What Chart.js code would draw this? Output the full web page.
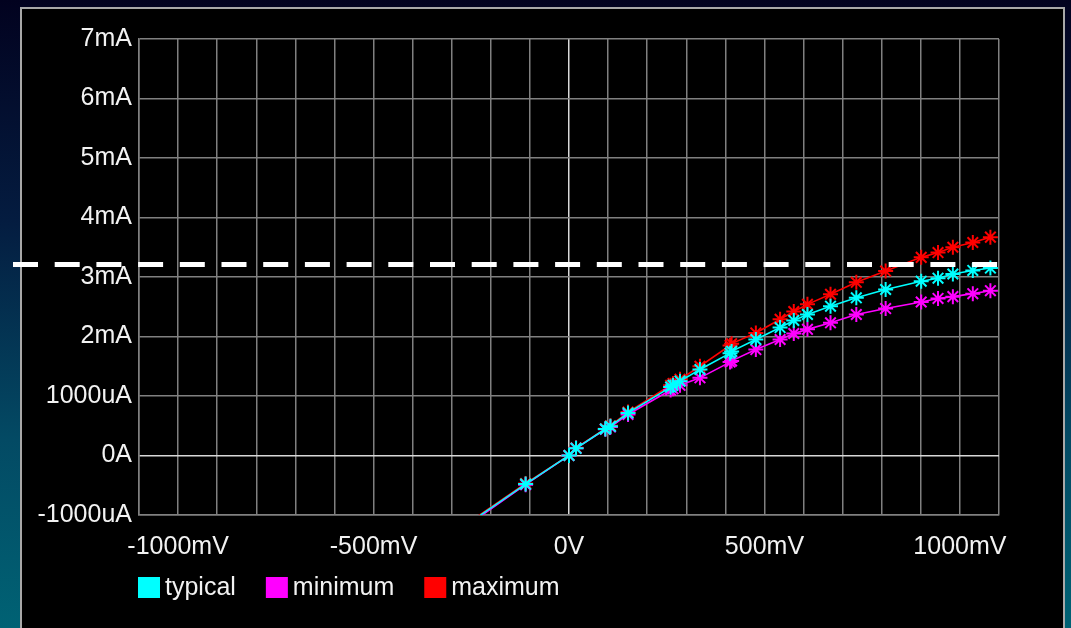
<!DOCTYPE html>
<html>
<head>
<meta charset="utf-8">
<script src="https://cdn.jsdelivr.net/npm/chart.js@4.4.1/dist/chart.umd.min.js"></script>
<style>
  html, body {
    margin: 0;
    padding: 0;
    width: 1071px;
    height: 628px;
    overflow: hidden;
    background: linear-gradient(to bottom, #02021f 0%, #041c40 35%, #034a64 70%, #006274 100%);
  }
  #panel {
    position: absolute;
    left: 20px;
    top: 7px;
    width: 1041px;
    height: 640px;
    background: #000;
    border: 2px solid #a8a8a8;
  }
  #iv {
    position: absolute;
    left: 0;
    top: 0;
  }
</style>
</head>
<body>
<div id="panel"></div>
<canvas id="iv" width="1071" height="628"></canvas>
<script>
// voltage in mV, current in mA
const voltages = [-300, -111, 0, 18, 93, 106, 151, 260, 266, 284, 335, 412, 416, 478, 540, 575, 610, 669, 735, 810, 901, 944, 982, 1033, 1078];
const typical = [-1.334, -0.48, 0, 0.12, 0.445, 0.49, 0.715, 1.15, 1.18, 1.25, 1.445, 1.72, 1.75, 1.95, 2.15, 2.27, 2.37, 2.51, 2.65, 2.79, 2.93, 2.98, 3.05, 3.11, 3.15];
const minimum = [-1.36, -0.49, 0, 0.12, 0.44, 0.48, 0.69, 1.10, 1.12, 1.18, 1.305, 1.57, 1.59, 1.78, 1.95, 2.05, 2.12, 2.23, 2.37, 2.47, 2.58, 2.64, 2.67, 2.72, 2.77];
const maximum = [-1.32, -0.47, 0, 0.13, 0.45, 0.50, 0.73, 1.18, 1.21, 1.28, 1.50, 1.85, 1.88, 2.06, 2.29, 2.42, 2.54, 2.71, 2.91, 3.10, 3.33, 3.41, 3.50, 3.58, 3.67];

const seriesNames = ["typical", "minimum", "maximum"];
const seriesColors = ["#00ffff", "#ff00ff", "#ff0000"];

const xTickValues = [-1000, -500, 0, 500, 1000];
const xTickLabels = ["-1000mV", "-500mV", "0V", "500mV", "1000mV"];
const yTickValues = [-1, 0, 1, 2, 3, 4, 5, 6, 7];
const yTickLabels = ["-1000uA", "0A", "1000uA", "2mA", "3mA", "4mA", "5mA", "6mA", "7mA"];

const thresholdLevel = 3.21;

const fontFamily = "'Liberation Sans', Arial, sans-serif";
const textColor = "#f2f2f2";

function makePoints(values) {
  return voltages.map(function (v, i) {
    return { x: v, y: values[i] };
  });
}

function gridColor(ctx) {
  return ctx.tick && ctx.tick.value === 0 ? "#d8d8d8" : "#808080";
}

// dashed limit line, runs past the panel edge on the left
const thresholdPlugin = {
  id: "threshold",
  afterDatasetsDraw(chart) {
    const c = chart.ctx;
    const y = chart.scales.y.getPixelForValue(thresholdLevel);
    c.save();
    c.strokeStyle = "#ffffff";
    c.lineWidth = 5;
    c.setLineDash([25, 16.7]);
    c.beginPath();
    c.moveTo(13, y);
    c.lineTo(chart.chartArea.right - 1, y);
    c.stroke();
    c.restore();
  }
};

// small legend under the x axis
const legendPlugin = {
  id: "boxLegend",
  afterDraw(chart) {
    const c = chart.ctx;
    let x = chart.chartArea.left - 1;
    const top = 577;
    c.save();
    c.font = "25px " + fontFamily;
    c.textBaseline = "middle";
    chart.data.datasets.forEach(function (ds) {
      c.fillStyle = ds.borderColor;
      c.fillRect(x, top, 22, 21);
      x += 27;
      c.fillStyle = textColor;
      c.fillText(ds.label, x, top + 11);
      x += c.measureText(ds.label).width + 30;
    });
    c.restore();
  }
};

const datasets = [typical, minimum, maximum].map(function (values, i) {
  return {
    label: seriesNames[i],
    data: makePoints(values),
    borderColor: seriesColors[i],
    backgroundColor: seriesColors[i],
    borderWidth: 1.6,
    pointStyle: "star",
    pointRadius: 7.5,
    pointBorderWidth: 2,
    pointBorderColor: seriesColors[i],
    tension: 0
  };
});

new Chart(document.getElementById("iv"), {
  type: "line",
  data: { datasets: datasets },
  options: {
    responsive: false,
    animation: false,
    devicePixelRatio: 1,
    layout: { padding: { left: 0, top: 39, right: 72, bottom: 0 } },
    plugins: {
      legend: { display: false },
      tooltip: { enabled: false }
    },
    scales: {
      x: {
        type: "linear",
        min: -1100,
        max: 1100,
        afterFit: function (scale) { scale.height = 113; },
        afterBuildTicks: function (scale) {
          const ticks = [];
          for (let v = -1100; v <= 1100; v += 100) ticks.push({ value: v });
          scale.ticks = ticks;
        },
        ticks: {
          autoSkip: false,
          maxRotation: 0,
          color: textColor,
          font: { family: fontFamily, size: 25 },
          padding: 17,
          callback: function (value) {
            const k = xTickValues.indexOf(value);
            return k >= 0 ? xTickLabels[k] : "";
          }
        },
        grid: { color: gridColor, lineWidth: 1.5, drawTicks: false },
        border: { color: "#808080", width: 1.5 }
      },
      y: {
        type: "linear",
        min: -1,
        max: 7,
        afterFit: function (scale) { scale.width = 139; },
        ticks: {
          stepSize: 1,
          color: textColor,
          font: { family: fontFamily, size: 25 },
          padding: 7,
          callback: function (value) {
            const k = yTickValues.indexOf(value);
            return k >= 0 ? yTickLabels[k] : "";
          }
        },
        grid: { color: gridColor, lineWidth: 1.5, drawTicks: false },
        border: { color: "#808080", width: 1.5 }
      }
    }
  },
  plugins: [thresholdPlugin, legendPlugin]
});
</script>
</body>
</html>
